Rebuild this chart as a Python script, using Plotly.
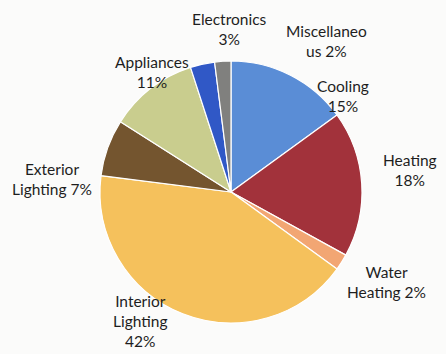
import plotly.graph_objects as go

# Energy end-use shares (percent), listed clockwise from 12 o'clock
categories = ["Cooling", "Heating", "Water Heating", "Interior Lighting",
              "Exterior Lighting", "Appliances", "Electronics", "Miscellaneous"]
shares = [15, 18, 2, 42, 7, 11, 3, 2]
colors = ["#5a8dd6", "#a2323b", "#f2a673", "#f5c15c",
          "#74552f", "#c9cd8e", "#3058c6", "#80807e"]

# How each category name is wrapped in its outside label
label_names = ["Cooling<br>", "Heating<br>", "Water<br>Heating", "Interior<br>Lighting<br>",
               "Exterior<br>Lighting", "Appliances<br>", "Electronics<br>", "Miscellaneo<br>us"]
label_xy = [(343, 96), (410, 170), (386, 282), (140, 321),
            (52, 179), (152, 72), (229, 29), (326, 41)]

W, H = 446, 354
cx, cy, r = 231, 192, 131

fig = go.Figure(go.Pie(
    labels=categories,
    values=shares,
    sort=False,
    direction="clockwise",
    rotation=0,
    marker=dict(colors=colors, line=dict(color="white", width=1.2)),
    textinfo="none",
    hoverinfo="label+percent",
    showlegend=False,
    domain=dict(x=[(cx - r) / W, (cx + r) / W],
                y=[1 - (cy + r) / H, 1 - (cy - r) / H]),
))

for name, val, (x, y) in zip(label_names, shares, label_xy):
    sep = "" if name.endswith("<br>") else " "
    fig.add_annotation(
        x=x / W, y=1 - y / H, xref="paper", yref="paper",
        text=f"{name}{sep}{val}%", showarrow=False,
        font=dict(family="Lato", size=15.5, color="#1e1e1e"),
        align="center", xanchor="center", yanchor="middle",
    )

fig.update_layout(
    width=W, height=H,
    margin=dict(l=0, r=0, t=0, b=0),
    paper_bgcolor="#fbfbfa",
    plot_bgcolor="#fbfbfa",
)

fig.write_html("out.html")
